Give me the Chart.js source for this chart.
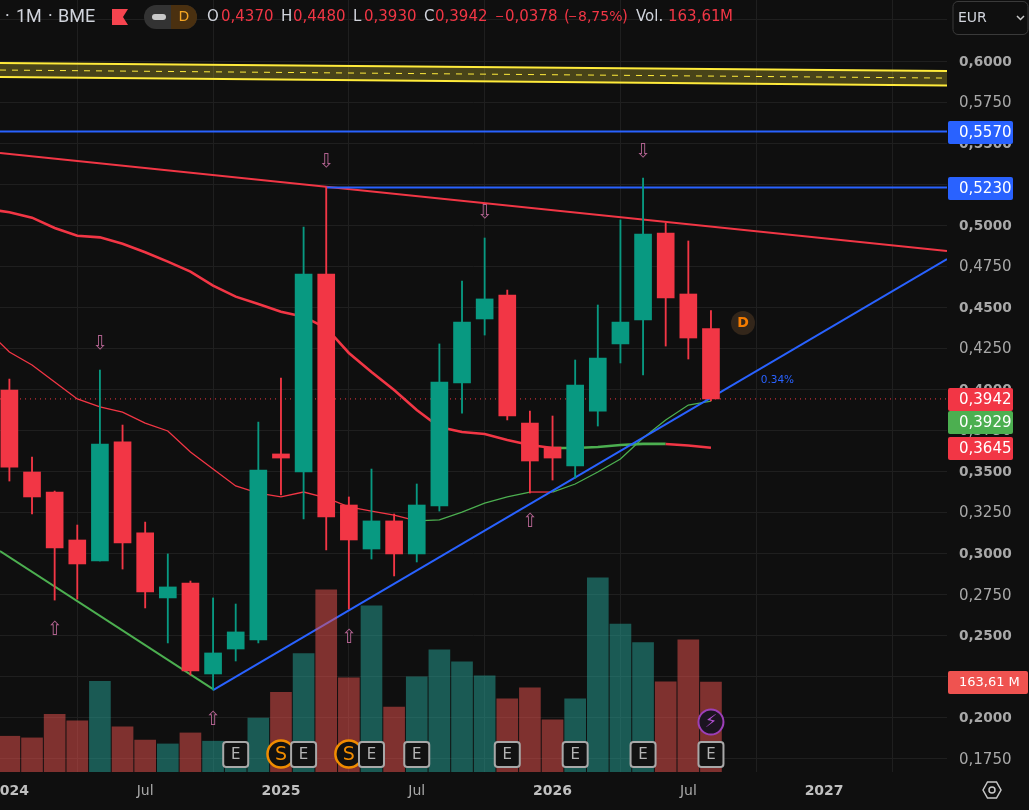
<!DOCTYPE html>
<html>
<head>
<meta charset="utf-8">
<title>1M BME</title>
<script src="https://cdn.jsdelivr.net/npm/chart.js@4/dist/chart.umd.min.js"></script>
<style>
	html, body { margin: 0; padding: 0; background: #0f0f0f; }
	canvas { display: block; }
</style>
</head>
<body>
<canvas id="priceChart" width="1029" height="810"></canvas>
<script>
// months counted from Jan 2024 = 0
const months = [0,1,2,3,4,5,6,7,8,9,10,11,12,13,14,15,16,17,18,19,20,21,22,23,24,25,26,27,28,29,30,31];
const opens = [.3996,.3497,.3375,.3083,.2955,.3680,.3126,.2730,.2821,.2267,.2419,.2474,.3607,.3497,.4703,.3296,.3028,.3199,.2998,.3290,.4039,.4429,.4575,.3795,.3649,.3534,.3868,.4277,.4423,.4952,.4581,.4370];
const highs = [.4063,.3588,.3381,.3174,.4118,.3783,.3192,.2998,.2833,.2730,.2693,.3801,.4069,.4989,.5230,.3345,.3515,.3241,.3424,.4277,.4660,.4922,.4605,.3868,.3838,.4179,.4514,.5032,.5287,.5013,.4904,.4480];
const lows = [.3442,.3241,.2717,.2723,.2955,.2906,.2669,.2456,.2261,.2169,.2346,.2456,.3357,.3211,.3022,.2663,.2967,.2864,.2949,.3259,.3856,.4331,.3814,.3369,.3448,.3460,.3777,.4161,.4088,.4264,.4185,.3930];
const closes = [.3527,.3345,.3034,.2937,.3667,.3065,.2766,.2797,.2285,.2395,.2523,.3509,.3582,.4703,.3223,.3083,.3199,.2998,.3296,.4045,.4410,.4551,.3838,.3564,.3582,.4027,.4191,.4410,.4946,.4557,.4313,.3942];
const volumes = [65,62,105,93,165,82,58,51,71,56,49,98,145,215,331,171,302,118,173,222,200,175,133,153,95,133,353,269,235,164,240,163.61];

// moving averages, one point more on the left (month -1)
const maMonths = [-1].concat(months);
const maSlow = [.5099,.5079,.5046,.4983,.4936,.4926,.4887,.4835,.4778,.4717,.4632,.4565,.4520,.4473,.4443,.4374,.4222,.4106,.3996,.3875,.3771,.3741,.3728,.3692,.3661,.3643,.3643,.3649,.3661,.3668,.3668,.3658,.3645];
const maFast = [.4362,.4228,.4149,.4045,.3942,.3893,.3862,.3795,.3747,.3619,.3515,.3412,.3369,.3345,.3375,.3339,.3284,.3259,.3235,.3199,.3205,.3253,.3308,.3345,.3375,.3375,.3424,.3497,.3576,.3704,.3814,.3905,.3929];

// hand drawn lines, [month, price] ends
const xLeft = -0.415;
const xRight = 41.43;
const channelTop = [.5988, .5939];
const channelMid = [.5945, .5896];
const channelBottom = [.5903, .5851];
const resistance = [.5440, .4843];
const supportDownX = [xLeft, 9];
const supportDown = [.3016, .2175];
const supportUpX = [9, xRight];
const supportUp = [.2169, .4794];
const levelHigh = .5570;
const levelLow = .5230;
const levelLowFrom = 14;
const lastPrice = .3942;

const xTickPos = [0, 6, 12, 18, 24, 30, 36];
const xTickLabels = ['2024', 'Jul', '2025', 'Jul', '2026', 'Jul', '2027'];
const yTickPos = [.175,.2,.225,.25,.275,.3,.325,.35,.375,.4,.425,.45,.475,.5,.525,.55,.575,.6,.625];
const yTickLabels = ['0,1750','0,2000','','0,2500','0,2750','0,3000','0,3250','0,3500','0,3750','0,4000','0,4250','0,4500','0,4750','0,5000','','0,5500','0,5750','0,6000',''];
const yTickBold = ['0,2000','0,2500','0,3000','0,3500','0,4000','0,4500','0,5000','0,5500','0,6000'];

const arrowsDown = [[4,.4289],[14,.5397],[21,.5086],[28,.5458]];
const arrowsUp = [[2,.2547],[9,.1999],[15,.2498],[23,.3205]];
const earningsMonths = [10,13,16,18,22,25,28,31];
const splitMonths = [12,15];

const RED = '#f23645';
const TEAL = '#089981';
const GREEN = '#4caf50';
const BLUE = '#2962ff';
const YELLOW = '#ffeb3b';
const BG = '#0f0f0f';
const FONT = '"DejaVu Sans"';

function isUp(i) { return closes[i] >= opens[i]; }
function pair(xs, ys) { return ys.map((y, i) => ({ x: xs[i], y: y })); }
function span(ys) { return pair([xLeft, xRight], ys); }

function line(data, color, width, extra) {
	return Object.assign({
		type: 'line', data: data, borderColor: color, borderWidth: width,
		pointRadius: 0, tension: 0, fill: false, order: 3
	}, extra || {});
}

// slow MA goes green over the months where price sits above it
function slowColor(ctx) {
	const m = maMonths[ctx.p0DataIndex];
	return m >= 24 && m < 29 ? GREEN : RED;
}
function fastColor(ctx) {
	const m = maMonths[ctx.p0DataIndex];
	return m < 18 || m === 23 ? RED : GREEN;
}

const datasets = [
	line(span(channelTop), YELLOW, 2, { fill: { target: 2 }, backgroundColor: 'rgba(255,235,59,.24)' }),
	line(span(channelMid), YELLOW, 1, { borderDash: [6, 6] }),
	line(span(channelBottom), YELLOW, 2),
	line(span([levelHigh, levelHigh]), BLUE, 2),
	line(pair([levelLowFrom, xRight], [levelLow, levelLow]), BLUE, 2),
	line(span(resistance), RED, 2),
	line(pair(supportDownX, supportDown), GREEN, 2),
	line(pair(supportUpX, supportUp), BLUE, 2),
	line(span([lastPrice, lastPrice]), RED, 1, { borderDash: [1, 4] }),
	line(pair(maMonths, maSlow), RED, 2.6, { segment: { borderColor: slowColor } }),
	line(pair(maMonths, maFast), RED, 1.3, { segment: { borderColor: fastColor } }),
	{
		label: 'wicks', data: months.map(i => ({ x: i, y: [lows[i], highs[i]] })),
		backgroundColor: months.map(i => isUp(i) ? TEAL : RED),
		barThickness: 1.2, order: 2
	},
	{
		label: 'bodies', data: months.map(i => ({ x: i, y: [opens[i], closes[i]] })),
		backgroundColor: months.map(i => isUp(i) ? TEAL : RED),
		barThickness: 17, order: 1
	},
	{
		label: 'volume', yAxisID: 'yVol', data: months.map(i => ({ x: i, y: volumes[i] })),
		backgroundColor: months.map(i => isUp(i) ? 'rgba(38,166,154,.5)' : 'rgba(239,83,80,.5)'),
		barThickness: 21, order: 0
	}
];

function text(ctx, str, x, y, color, font, align) {
	ctx.fillStyle = color;
	ctx.font = font;
	ctx.textAlign = align || 'left';
	ctx.textBaseline = 'middle';
	ctx.fillText(str, x, y);
}

function priceTag(ctx, str, y, color, width, size) {
	ctx.fillStyle = color;
	ctx.beginPath();
	ctx.roundRect(948, y - 11.5, width, 23, 2);
	ctx.fill();
	text(ctx, str, 959, y + 0.5, '#ffffff', (size || 15) + 'px ' + FONT);
}

function drawHeader(ctx) {
	const grey = '#d1d4dc';
	const font = '15px ' + FONT;
	const small = '11px ' + FONT;
	const title = '18px Roboto';
	text(ctx, '·', 5, 17, grey, title);
	text(ctx, '1M', 16, 17, grey, title);
	text(ctx, '·', 48, 17, grey, title);
	text(ctx, 'BME', 58, 17, grey, title);

	ctx.fillStyle = '#f6444f';
	ctx.beginPath();
	ctx.moveTo(112, 9); ctx.lineTo(128, 9); ctx.lineTo(123, 17); ctx.lineTo(128, 25); ctx.lineTo(112, 25);
	ctx.closePath();
	ctx.fill();

	ctx.fillStyle = '#333333';
	ctx.beginPath(); ctx.roundRect(144, 5, 53, 24, 12); ctx.fill();
	ctx.fillStyle = '#4a3010';
	ctx.beginPath(); ctx.roundRect(171, 5, 26, 24, [0, 12, 12, 0]); ctx.fill();
	ctx.fillStyle = '#c8c8c8';
	ctx.beginPath(); ctx.roundRect(152, 14, 14, 6, 3); ctx.fill();
	text(ctx, 'D', 184, 17.5, '#f5a623', '14px ' + FONT, 'center');

	const parts = [['O', 207, grey, font], ['0,4370', 221, RED, font], ['H', 281, grey, font], ['0,4480', 293, RED, font],
		['L', 353, grey, font], ['0,3930', 364, RED, font], ['C', 424, grey, font], ['0,3942', 435, RED, font],
		['−', 495, RED, small], ['0,0378', 505, RED, font], ['(', 564, RED, font], ['−', 568, RED, small],
		['8,75%', 578, RED, '14px ' + FONT], [')', 622, RED, font], ['Vol.', 636, grey, font],
		['163,61', 668, RED, font], ['M', 720, RED, font]];
	parts.forEach(p => text(ctx, p[0], p[1], 17, p[2], p[3]));

	// currency box
	ctx.strokeStyle = '#3a3a3a';
	ctx.lineWidth = 1;
	ctx.beginPath(); ctx.roundRect(953, 1.5, 75, 33, 5); ctx.stroke();
	text(ctx, 'EUR', 958, 18, '#d1d4dc', '14px ' + FONT);
	ctx.strokeStyle = '#c8c8c8';
	ctx.lineWidth = 1.5;
	ctx.beginPath(); ctx.moveTo(1017, 16); ctx.lineTo(1020.5, 19.5); ctx.lineTo(1024, 16); ctx.stroke();
}

const overlayPlugin = {
	id: 'overlay',
	afterDraw(chart) {
		const ctx = chart.ctx;
		const px = chart.scales.x;
		const py = chart.scales.y;

		arrowsDown.forEach(a => text(ctx, '⇩', px.getPixelForValue(a[0]), py.getPixelForValue(a[1]) + 2, '#b0628f', '19px ' + FONT, 'center'));
		arrowsUp.forEach(a => text(ctx, '⇧', px.getPixelForValue(a[0]), py.getPixelForValue(a[1]) + 2, '#b0628f', '19px ' + FONT, 'center'));
		text(ctx, '0.34%', px.getPixelForValue(33.2), py.getPixelForValue(.4057), BLUE, '10.5px ' + FONT);

		// dividends and earnings badges
		splitMonths.forEach(m => {
			const x = px.getPixelForValue(m);
			ctx.fillStyle = '#111111';
			ctx.strokeStyle = '#f08c00';
			ctx.lineWidth = 2.5;
			ctx.beginPath(); ctx.arc(x, 754, 13.5, 0, Math.PI * 2); ctx.fill(); ctx.stroke();
			text(ctx, 'S', x, 755, '#f08c00', '19px ' + FONT, 'center');
		});
		earningsMonths.forEach(m => {
			const x = px.getPixelForValue(m);
			ctx.fillStyle = '#121212';
			ctx.strokeStyle = '#a8a8a8';
			ctx.lineWidth = 2;
			ctx.beginPath(); ctx.roundRect(x - 12.5, 742, 25, 25, 3); ctx.fill(); ctx.stroke();
			text(ctx, 'E', x, 755, '#b4b4b4', '15px ' + FONT, 'center');
		});

		// lightning badge on the last candle
		const lastX = px.getPixelForValue(31);
		ctx.fillStyle = '#1c1420';
		ctx.strokeStyle = '#9c3fb8';
		ctx.lineWidth = 2;
		ctx.beginPath(); ctx.arc(lastX, 722, 12.5, 0, Math.PI * 2); ctx.fill(); ctx.stroke();
		text(ctx, '⚡', lastX, 722, '#b04fd0', '18px ' + FONT, 'center');

		// dividend "D" bubble
		ctx.fillStyle = '#33261a';
		ctx.beginPath(); ctx.arc(743, 323, 12, 0, Math.PI * 2); ctx.fill();
		text(ctx, 'D', 743, 323.5, '#f57c00', 'bold 14px ' + FONT, 'center');

		priceTag(ctx, '0,5570', 132.5, BLUE, 65);
		priceTag(ctx, '0,5230', 188.5, BLUE, 65);
		priceTag(ctx, '0,3929', 422.5, GREEN, 65);
		priceTag(ctx, '0,3942', 399.5, RED, 65);
		priceTag(ctx, '0,3645', 448.5, RED, 65);
		priceTag(ctx, '163,61 M', 682.5, '#ef5350', 80, 13);

		drawHeader(ctx);

		// settings hexagon
		ctx.strokeStyle = '#c8c8c8';
		ctx.lineWidth = 1.5;
		ctx.beginPath();
		ctx.moveTo(983, 790); ctx.lineTo(987.5, 782); ctx.lineTo(996.5, 782); ctx.lineTo(1001, 790); ctx.lineTo(996.5, 798); ctx.lineTo(987.5, 798);
		ctx.closePath();
		ctx.stroke();
		ctx.beginPath(); ctx.arc(992, 790, 3, 0, Math.PI * 2); ctx.stroke();
	}
};

const bgPlugin = {
	id: 'bg',
	beforeDraw(chart) {
		chart.ctx.fillStyle = BG;
		chart.ctx.fillRect(0, 0, chart.width, chart.height);
	}
};

new Chart(document.getElementById('priceChart').getContext('2d'), {
	type: 'bar',
	data: { datasets: datasets },
	plugins: [bgPlugin, overlayPlugin],
	options: {
		responsive: false,
		animation: false,
		layout: { padding: 0 },
		datasets: { bar: { grouped: false } },
		plugins: { legend: { display: false }, tooltip: { enabled: false } },
		scales: {
			x: {
				type: 'linear',
				offset: false,
				min: xLeft,
				max: xRight,
				border: { display: false },
				grid: { color: '#1f1f1f', drawTicks: false },
				afterBuildTicks(axis) { axis.ticks = xTickPos.map(v => ({ value: v })); },
				afterFit(axis) { axis.height = 38; axis.paddingLeft = 0; axis.paddingRight = 0; },
				ticks: {
					autoSkip: false,
					maxRotation: 0,
					padding: 11,
					callback: (v, i) => xTickLabels[i],
					color: ctx => xTickLabels[ctx.index] === 'Jul' ? '#a8a8a8' : '#c0c0c0',
					font: ctx => ({ family: FONT, size: 14, weight: xTickLabels[ctx.index] === 'Jul' ? 'normal' : 'bold' })
				}
			},
			y: {
				position: 'right',
				min: 0.1670,
				max: 0.63715,
				border: { display: false },
				grid: { color: '#1f1f1f', drawTicks: false },
				afterBuildTicks(axis) { axis.ticks = yTickPos.map(v => ({ value: v })); },
				afterFit(axis) { axis.width = 82; axis.paddingTop = 0; axis.paddingBottom = 0; },
				ticks: {
					autoSkip: false,
					padding: 12,
					labelOffset: 1,
					callback: (v, i) => yTickLabels[i],
					color: '#a8a8a8',
					font: ctx => {
						const bold = yTickBold.includes(yTickLabels[ctx.index]);
						return { family: FONT, size: bold ? 13.7 : 15, weight: bold ? 'bold' : 'normal' };
					}
				}
			},
			yVol: { display: false, min: 0, max: 1403 }
		}
	}
});
</script>
</body>
</html>
